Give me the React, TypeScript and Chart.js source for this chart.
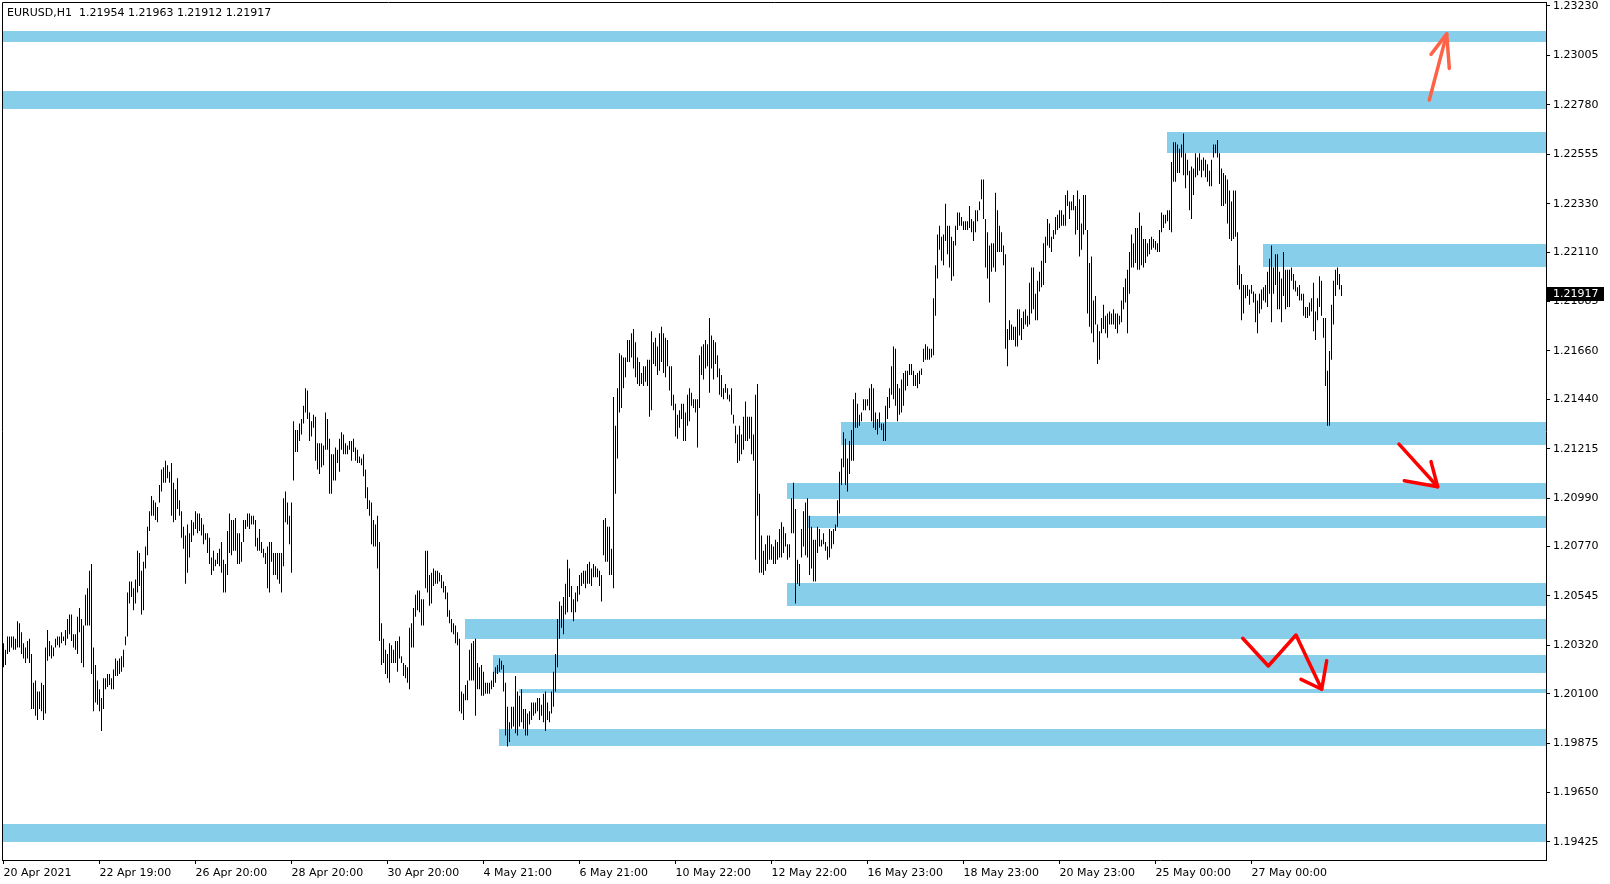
import React, { useEffect, useRef } from 'react';
import { Chart, registerables } from 'chart.js';

Chart.register(...registerables);

const symbolTitle = 'EURUSD,H1';
const lastBarOHLC = [1.21954, 1.21963, 1.21912, 1.21917];

const highs = [
  1.2033,1.2030,1.2036,1.2036,1.2036,1.2036,1.2035,1.2043,1.2042,1.2038,
  1.2033,1.2031,1.2034,1.2035,1.2028,1.2015,1.2016,1.2011,1.2011,1.2015,
  1.2014,1.2031,1.2039,1.2034,1.2032,1.2031,1.2035,1.2036,1.2036,1.2038,
  1.2036,1.2039,1.2044,1.2046,1.2046,1.2037,1.2037,1.2045,1.2049,1.2044,
  1.2041,1.2055,1.2058,1.2066,1.2069,1.2031,1.2023,1.2016,1.2012,1.2008,
  1.2017,1.2017,1.2019,1.2019,1.2017,1.2021,1.2026,1.2025,1.2026,1.2027,
  1.2030,1.2036,1.2056,1.2061,1.2061,1.2058,1.2062,1.2075,1.2074,1.2066,
  1.2070,1.2077,1.2086,1.2093,1.2100,1.2098,1.2097,1.2095,1.2105,1.2112,
  1.2113,1.2116,1.2114,1.2111,1.2115,1.2106,1.2103,1.2108,1.2098,1.2093,
  1.2086,1.2082,1.2087,1.2083,1.2089,1.2088,1.2093,1.2092,1.2092,1.2090,
  1.2087,1.2083,1.2083,1.2081,1.2072,1.2075,1.2071,1.2074,1.2076,1.2079,
  1.2071,1.2069,1.2084,1.2092,1.2089,1.2089,1.2090,1.2083,1.2083,1.2079,
  1.2089,1.2089,1.2092,1.2092,1.2091,1.2091,1.2089,1.2081,1.2085,1.2079,
  1.2076,1.2074,1.2077,1.2079,1.2079,1.2074,1.2074,1.2074,1.2074,1.2074,
  1.2099,1.2102,1.2097,1.2091,1.2097,1.2134,1.2130,1.2130,1.2133,1.2135,
  1.2141,1.2149,1.2148,1.2138,1.2134,1.2137,1.2136,1.2124,1.2124,1.2124,
  1.2123,1.2138,1.2135,1.2126,1.2119,1.2119,1.2122,1.2121,1.2126,1.2129,
  1.2128,1.2124,1.2123,1.2125,1.2125,1.2126,1.2122,1.2121,1.2118,1.2117,
  1.2119,1.2112,1.2104,1.2098,1.2097,1.2089,1.2087,1.2091,1.2079,1.2042,
  1.2035,1.2030,1.2028,1.2033,1.2032,1.2030,1.2034,1.2034,1.2036,1.2027,
  1.2024,1.2023,1.2022,1.2040,1.2042,1.2049,1.2055,1.2057,1.2057,1.2053,
  1.2053,1.2075,1.2075,1.2064,1.2065,1.2067,1.2066,1.2066,1.2065,1.2064,
  1.2061,1.2059,1.2056,1.2048,1.2044,1.2042,1.2041,1.2038,1.2035,1.2011,
  1.2010,1.2014,1.2016,1.2030,1.2033,1.2034,1.2035,1.2024,1.2022,1.2023,
  1.2020,1.2015,1.2015,1.2015,1.2016,1.2020,1.2022,1.2023,1.2026,1.2025,
  1.2023,1.2015,1.2004,1.1997,1.2004,1.2004,1.2018,1.2011,1.2009,1.2012,
  1.2003,1.2003,1.2001,1.2002,1.2006,1.2006,1.2006,1.2008,1.2008,1.2005,
  1.2010,1.2011,1.2006,1.2002,1.2011,1.2020,1.2028,1.2044,1.2052,1.2050,
  1.2054,1.2060,1.2071,1.2067,1.2059,1.2053,1.2056,1.2059,1.2064,1.2065,
  1.2066,1.2066,1.2069,1.2070,1.2067,1.2069,1.2068,1.2067,1.2066,1.2064,
  1.2089,1.2090,1.2086,1.2086,1.2076,1.2145,1.2132,1.2149,1.2165,1.2164,
  1.2163,1.2163,1.2171,1.2171,1.2174,1.2176,1.2170,1.2163,1.2161,1.2156,
  1.2159,1.2159,1.2162,1.2162,1.2175,1.2170,1.2172,1.2168,1.2174,1.2177,
  1.2174,1.2172,1.2171,1.2159,1.2159,1.2146,1.2142,1.2137,1.2139,1.2142,
  1.2142,1.2138,1.2146,1.2149,1.2147,1.2144,1.2144,1.2144,1.2164,1.2168,
  1.2169,1.2171,1.2169,1.2181,1.2173,1.2171,1.2170,1.2164,1.2158,1.2155,
  1.2149,1.2151,1.2149,1.2146,1.2149,1.2137,1.2132,1.2128,1.2132,1.2128,
  1.2136,1.2143,1.2136,1.2136,1.2136,1.2128,1.2146,1.2151,1.2101,1.2082,
  1.2075,1.2078,1.2082,1.2082,1.2078,1.2077,1.2080,1.2079,1.2085,1.2088,
  1.2086,1.2083,1.2078,1.2078,1.2099,1.2106,1.2094,1.2071,1.2069,1.2085,
  1.2093,1.2097,1.2099,1.2091,1.2086,1.2080,1.2080,1.2086,1.2085,1.2080,
  1.2083,1.2079,1.2077,1.2085,1.2084,1.2085,1.2087,1.2098,1.2111,1.2117,
  1.2129,1.2126,1.2117,1.2125,1.2130,1.2144,1.2147,1.2142,1.2137,1.2138,
  1.2144,1.2144,1.2144,1.2149,1.2151,1.2149,1.2138,1.2135,1.2138,1.2133,
  1.2133,1.2141,1.2145,1.2149,1.2159,1.2168,1.2167,1.2151,1.2149,1.2153,
  1.2156,1.2157,1.2157,1.2160,1.2160,1.2157,1.2155,1.2156,1.2157,1.2158,
  1.2167,1.2169,1.2168,1.2167,1.2167,1.2190,1.2205,1.2219,1.2223,1.2218,
  1.2219,1.2233,1.2223,1.2223,1.2218,1.2216,1.2223,1.2229,1.2229,1.2227,
  1.2225,1.2225,1.2225,1.2232,1.2226,1.2225,1.2230,1.2230,1.2234,1.2244,
  1.2244,1.2226,1.2220,1.2214,1.2215,1.2215,1.2238,1.2230,1.2223,1.2220,
  1.2214,1.2210,1.2176,1.2180,1.2178,1.2177,1.2177,1.2185,1.2185,1.2181,
  1.2184,1.2185,1.2182,1.2197,1.2204,1.2204,1.2192,1.2198,1.2202,1.2207,
  1.2215,1.2218,1.2226,1.2224,1.2218,1.2221,1.2227,1.2228,1.2230,1.2230,
  1.2228,1.2237,1.2239,1.2234,1.2234,1.2237,1.2232,1.2239,1.2235,1.2224,
  1.2237,1.2237,1.2221,1.2206,1.2209,1.2189,1.2191,1.2178,1.2175,1.2181,
  1.2187,1.2182,1.2183,1.2184,1.2183,1.2185,1.2183,1.2183,1.2182,1.2189,
  1.2195,1.2199,1.2203,1.2211,1.2219,1.2215,1.2222,1.2222,1.2229,1.2223,
  1.2217,1.2217,1.2215,1.2217,1.2218,1.2217,1.2216,1.2215,1.2221,1.2229,
  1.2228,1.2228,1.2230,1.2230,1.2252,1.2261,1.2261,1.2260,1.2258,1.2260,
  1.2265,1.2256,1.2253,1.2248,1.2250,1.2249,1.2256,1.2254,1.2256,1.2253,
  1.2254,1.2253,1.2251,1.2248,1.2253,1.2260,1.2260,1.2262,1.2256,1.2249,
  1.2247,1.2246,1.2244,1.2239,1.2234,1.2239,1.2239,1.2220,1.2205,1.2201,
  1.2196,1.2196,1.2196,1.2194,1.2196,1.2193,1.2192,1.2189,1.2192,1.2194,
  1.2195,1.2196,1.2202,1.2208,1.2214,1.2204,1.2210,1.2210,1.2202,1.2199,
  1.2211,1.2203,1.2203,1.2203,1.2204,1.2201,1.2198,1.2195,1.2196,1.2192,
  1.2192,1.2186,1.2186,1.2188,1.2190,1.2197,1.2184,1.2190,1.2200,1.2198,
  1.2181,1.2181,1.2157,1.2166,1.2187,1.2198,1.2203,1.2204,1.2201,1.2196
];

const lows = [
  1.2022,1.2023,1.2028,1.2029,1.2031,1.2030,1.2030,1.2031,1.2031,1.2028,
  1.2026,1.2024,1.2026,1.2024,1.2003,1.2003,1.2000,1.1998,1.2003,1.2002,
  1.1998,1.2001,1.2025,1.2027,1.2026,1.2027,1.2031,1.2032,1.2031,1.2033,
  1.2034,1.2032,1.2035,1.2037,1.2034,1.2031,1.2030,1.2028,1.2038,1.2024,
  1.2022,1.2041,1.2041,1.2041,1.2019,1.2002,1.2006,1.2005,1.2002,1.1993,
  1.2003,1.2012,1.2013,1.2014,1.2012,1.2012,1.2018,1.2018,1.2019,1.2020,
  1.2022,1.2032,1.2036,1.2051,1.2054,1.2048,1.2051,1.2056,1.2059,1.2046,
  1.2048,1.2067,1.2073,1.2084,1.2091,1.2091,1.2089,1.2088,1.2097,1.2102,
  1.2106,1.2106,1.2108,1.2106,1.2091,1.2088,1.2089,1.2094,1.2091,1.2081,
  1.2076,1.2060,1.2065,1.2072,1.2079,1.2082,1.2085,1.2083,1.2084,1.2082,
  1.2078,1.2080,1.2074,1.2069,1.2064,1.2066,1.2068,1.2069,1.2068,1.2065,
  1.2056,1.2056,1.2064,1.2074,1.2073,1.2075,1.2075,1.2069,1.2069,1.2070,
  1.2079,1.2085,1.2086,1.2085,1.2087,1.2087,1.2077,1.2075,1.2075,1.2074,
  1.2072,1.2069,1.2058,1.2056,1.2070,1.2064,1.2064,1.2062,1.2060,1.2056,
  1.2068,1.2088,1.2087,1.2078,1.2065,1.2107,1.2120,1.2120,1.2125,1.2128,
  1.2133,1.2138,1.2135,1.2125,1.2127,1.2131,1.2116,1.2112,1.2110,1.2113,
  1.2114,1.2121,1.2121,1.2101,1.2101,1.2107,1.2107,1.2115,1.2111,1.2121,
  1.2119,1.2119,1.2119,1.2121,1.2116,1.2120,1.2116,1.2115,1.2115,1.2114,
  1.2109,1.2099,1.2094,1.2091,1.2078,1.2077,1.2077,1.2067,1.2034,1.2023,
  1.2024,1.2019,1.2017,1.2015,1.2024,1.2024,1.2024,1.2020,1.2026,1.2024,
  1.2018,1.2017,1.2015,1.2012,1.2031,1.2031,1.2045,1.2048,1.2047,1.2041,
  1.2041,1.2058,1.2056,1.2050,1.2051,1.2059,1.2060,1.2060,1.2061,1.2058,
  1.2056,1.2053,1.2045,1.2042,1.2038,1.2037,1.2033,1.2032,1.2002,1.2001,
  1.1998,1.2007,1.2007,1.2016,1.2016,1.2016,1.2000,1.2012,1.2012,1.2009,
  1.2009,1.2010,1.2010,1.2010,1.2012,1.2013,1.2015,1.2019,1.2020,1.2021,
  1.2011,1.1991,1.1986,1.1988,1.1994,1.1995,1.1992,1.1991,1.1995,1.1997,
  1.1994,1.1991,1.1991,1.1996,1.1998,1.2000,1.2001,1.2002,1.1998,1.2000,
  1.1997,1.1993,1.1998,1.1997,1.2001,1.2004,1.2011,1.2022,1.2035,1.2040,
  1.2037,1.2046,1.2047,1.2054,1.2047,1.2043,1.2047,1.2052,1.2055,1.2059,
  1.2060,1.2058,1.2060,1.2060,1.2059,1.2063,1.2063,1.2063,1.2059,1.2052,
  1.2073,1.2070,1.2070,1.2064,1.2064,1.2058,1.2101,1.2117,1.2138,1.2140,
  1.2149,1.2154,1.2161,1.2161,1.2163,1.2158,1.2154,1.2151,1.2150,1.2151,
  1.2150,1.2152,1.2150,1.2136,1.2139,1.2160,1.2159,1.2155,1.2157,1.2161,
  1.2156,1.2154,1.2159,1.2148,1.2141,1.2139,1.2127,1.2126,1.2131,1.2135,
  1.2125,1.2125,1.2132,1.2134,1.2141,1.2140,1.2138,1.2122,1.2140,1.2155,
  1.2153,1.2158,1.2159,1.2147,1.2158,1.2153,1.2160,1.2154,1.2146,1.2145,
  1.2144,1.2147,1.2144,1.2143,1.2137,1.2133,1.2124,1.2115,1.2116,1.2119,
  1.2121,1.2125,1.2125,1.2126,1.2119,1.2116,1.2071,1.2091,1.2065,1.2065,
  1.2064,1.2066,1.2069,1.2071,1.2071,1.2069,1.2069,1.2071,1.2072,1.2072,
  1.2074,1.2077,1.2071,1.2072,1.2083,1.2083,1.2051,1.2060,1.2059,1.2072,
  1.2077,1.2073,1.2072,1.2064,1.2067,1.2061,1.2061,1.2074,1.2077,1.2077,
  1.2078,1.2075,1.2071,1.2072,1.2076,1.2078,1.2084,1.2086,1.2092,1.2105,
  1.2113,1.2105,1.2102,1.2110,1.2116,1.2116,1.2131,1.2131,1.2132,1.2134,
  1.2139,1.2139,1.2141,1.2139,1.2134,1.2131,1.2130,1.2128,1.2131,1.2130,
  1.2125,1.2125,1.2135,1.2140,1.2146,1.2144,1.2141,1.2134,1.2137,1.2138,
  1.2141,1.2148,1.2150,1.2155,1.2155,1.2150,1.2150,1.2149,1.2151,1.2155,
  1.2161,1.2162,1.2162,1.2162,1.2163,1.2164,1.2182,1.2199,1.2212,1.2207,
  1.2205,1.2216,1.2210,1.2204,1.2198,1.2200,1.2214,1.2221,1.2223,1.2223,
  1.2221,1.2221,1.2221,1.2222,1.2220,1.2216,1.2220,1.2225,1.2230,1.2235,
  1.2226,1.2204,1.2199,1.2188,1.2202,1.2204,1.2202,1.2211,1.2211,1.2211,
  1.2205,1.2167,1.2159,1.2171,1.2171,1.2171,1.2168,1.2168,1.2173,1.2171,
  1.2176,1.2178,1.2177,1.2178,1.2183,1.2185,1.2180,1.2180,1.2193,1.2195,
  1.2196,1.2206,1.2214,1.2213,1.2211,1.2217,1.2219,1.2221,1.2222,1.2223,
  1.2223,1.2223,1.2232,1.2226,1.2230,1.2230,1.2219,1.2221,1.2209,1.2212,
  1.2219,1.2221,1.2183,1.2177,1.2174,1.2170,1.2178,1.2160,1.2162,1.2174,
  1.2176,1.2174,1.2172,1.2178,1.2178,1.2178,1.2176,1.2174,1.2178,1.2179,
  1.2185,1.2188,1.2174,1.2192,1.2204,1.2204,1.2206,1.2203,1.2203,1.2205,
  1.2204,1.2206,1.2209,1.2210,1.2212,1.2213,1.2212,1.2211,1.2211,1.2220,
  1.2222,1.2224,1.2225,1.2221,1.2220,1.2243,1.2243,1.2247,1.2247,1.2254,
  1.2246,1.2240,1.2246,1.2230,1.2226,1.2237,1.2245,1.2246,1.2248,1.2245,
  1.2248,1.2245,1.2243,1.2241,1.2241,1.2254,1.2256,1.2254,1.2242,1.2232,
  1.2232,1.2233,1.2224,1.2217,1.2216,1.2217,1.2218,1.2196,1.2194,1.2180,
  1.2183,1.2190,1.2191,1.2187,1.2192,1.2188,1.2179,1.2174,1.2183,1.2185,
  1.2189,1.2188,1.2186,1.2192,1.2179,1.2192,1.2196,1.2185,1.2185,1.2179,
  1.2191,1.2185,1.2186,1.2186,1.2198,1.2194,1.2193,1.2191,1.2189,1.2189,
  1.2182,1.2181,1.2181,1.2182,1.2184,1.2175,1.2171,1.2180,1.2186,1.2182,
  1.2172,1.2150,1.2132,1.2132,1.2162,1.2178,1.2191,1.2196,1.2194,1.2191
];

const timeTickIndex = [0, 48, 96, 144, 192, 240, 288, 336, 384, 432, 480, 528, 576, 624];
const timeTickLabels = [
  '20 Apr 2021', '22 Apr 19:00', '26 Apr 20:00', '28 Apr 20:00', '30 Apr 20:00',
  '4 May 21:00', '6 May 21:00', '10 May 22:00', '12 May 22:00', '16 May 23:00',
  '18 May 23:00', '20 May 23:00', '25 May 00:00', '27 May 00:00'
];

const priceTicks = [
  1.23230, 1.23005, 1.22780, 1.22555, 1.22330, 1.22110, 1.21885, 1.21660, 1.21440,
  1.21215, 1.20990, 1.20770, 1.20545, 1.20320, 1.20100, 1.19875, 1.19650, 1.19425
];

// Supply / demand zones (price top, price bottom, first bar index; null = whole chart)
const zoneTop = [1.23116, 1.22845, 1.22656, 1.22147, 1.21336, 1.21059, 1.20908, 1.20604, 1.20440, 1.20276, 1.20121, 1.19939, 1.19507];
const zoneBottom = [1.23066, 1.22763, 1.22562, 1.22040, 1.21233, 1.20986, 1.20855, 1.20500, 1.20349, 1.20195, 1.20104, 1.19863, 1.19426];
const zoneStart: (number | null)[] = [null, null, 582, 630, 419, 392, 402, 392, 231, 245, 258, 248, null];

// Hand-drawn arrows (bar index, price)
const arrowUp = [[[712.9, 1.22802], [721.6, 1.23103]], [[713.75, 1.23010], [721.6, 1.23103], [722.9, 1.22946]]];
const arrowDown = [[[697.75, 1.21236], [717.1, 1.21042]], [[713.75, 1.21156], [717.1, 1.21042], [700.4, 1.21069]]];
const arrowZigzag = [
  [[619.6, 1.20352], [632.4, 1.20226], [646.25, 1.20367], [659.1, 1.20120]],
  [[661.6, 1.20250], [659.1, 1.20120], [648.75, 1.20165]]
];
const arrowColors = ['#FF6347', '#FF0000', '#FF0000'];

const X_MIN = -0.75;
const X_MAX = 771.25;
const Y_MAX = 1.232482;
const Y_MIN = 1.193429;
const FONT = '"DejaVu Sans", Verdana, sans-serif';

const zonesPlugin = {
  id: 'zones',
  beforeDatasetsDraw(chart: any) {
    const { ctx, chartArea, scales } = chart;
    const xs = scales.x;
    const ys = scales.y;
    ctx.save();
    ctx.fillStyle = '#87CEEB';
    for (let k = 0; k < zoneTop.length; k++) {
      const s = zoneStart[k];
      const x0 = s === null ? chartArea.left : Math.round(xs.getPixelForValue(s) - 0.5);
      const y0 = Math.round(ys.getPixelForValue(zoneTop[k]));
      const y1 = Math.round(ys.getPixelForValue(zoneBottom[k]));
      ctx.fillRect(x0, y0, chartArea.right - x0, Math.max(1, y1 - y0));
    }
    ctx.restore();
  }
};

const overlayPlugin = {
  id: 'overlay',
  afterDatasetsDraw(chart: any) {
    const { ctx, scales } = chart;
    const xs = scales.x;
    const ys = scales.y;
    const groups = [arrowUp, arrowDown, arrowZigzag];
    ctx.save();
    ctx.lineWidth = 3.5;
    ctx.lineCap = 'round';
    ctx.lineJoin = 'round';
    groups.forEach((g, gi) => {
      ctx.strokeStyle = arrowColors[gi];
      g.forEach((line) => {
        ctx.beginPath();
        line.forEach((pt, k) => {
          const px = xs.getPixelForValue(pt[0]);
          const py = ys.getPixelForValue(pt[1]);
          if (k === 0) ctx.moveTo(px, py); else ctx.lineTo(px, py);
        });
        ctx.stroke();
      });
    });
    ctx.restore();
  },
  afterDraw(chart: any) {
    const { ctx, chartArea, scales } = chart;
    const ys = scales.y;
    ctx.save();
    // frame left/top
    ctx.strokeStyle = '#000';
    ctx.lineWidth = 1;
    ctx.beginPath();
    ctx.moveTo(chartArea.left + 0.5, chartArea.bottom);
    ctx.lineTo(chartArea.left + 0.5, chartArea.top + 0.5);
    ctx.lineTo(chartArea.right, chartArea.top + 0.5);
    ctx.stroke();
    // title
    ctx.fillStyle = '#000';
    ctx.font = '11px ' + FONT;
    ctx.textBaseline = 'alphabetic';
    ctx.textAlign = 'left';
    ctx.fillText(symbolTitle + '  ' + lastBarOHLC.map((v) => v.toFixed(5)).join(' '), 7, 16);
    // current price label
    const yc = Math.round(ys.getPixelForValue(lastBarOHLC[3]));
    ctx.fillStyle = '#000';
    ctx.fillRect(chartArea.right + 1, yc - 7, 57, 14);
    ctx.fillStyle = '#fff';
    ctx.textBaseline = 'middle';
    ctx.fillText(lastBarOHLC[3].toFixed(5), chartArea.right + 7, yc + 0.5);
    ctx.restore();
  }
};

export default function App() {
  const canvasRef = useRef<HTMLCanvasElement | null>(null);

  useEffect(() => {
    const canvas = canvasRef.current;
    if (!canvas) return;
    const n = Math.min(highs.length, lows.length);
    const barData = [] as { x: number; y: number[] }[];
    for (let i = 0; i < n; i++) barData.push({ x: i, y: [lows[i], highs[i]] });

    const chart = new Chart(canvas, {
      type: 'bar',
      data: {
        datasets: [
          {
            data: barData as any,
            backgroundColor: '#000000',
            borderWidth: 0,
            barThickness: 1,
            inflateAmount: 0,
            grouped: false
          } as any
        ]
      },
      options: {
        animation: false,
        responsive: false,
        devicePixelRatio: 1,
        events: [],
        layout: { padding: { left: 2, top: 2, right: 0, bottom: 0 } },
        plugins: {
          legend: { display: false },
          tooltip: { enabled: false },
          title: { display: false }
        },
        scales: {
          x: {
            type: 'linear',
            position: 'bottom',
            min: X_MIN,
            max: X_MAX,
            offset: false,
            grid: { display: true, drawOnChartArea: false, drawTicks: true, tickLength: 4, color: '#000', offset: false },
            border: { display: true, color: '#000', width: 1 },
            ticks: {
              autoSkip: false,
              maxRotation: 0,
              minRotation: 0,
              align: 'start',
              padding: 3,
              color: '#000',
              font: { family: FONT, size: 11 },
              callback: (value: any) => {
                const k = timeTickIndex.indexOf(Number(value));
                return k >= 0 ? timeTickLabels[k] : '';
              }
            },
            afterBuildTicks: (s: any) => {
              s.ticks = timeTickIndex.map((v) => ({ value: v }));
            },
            afterFit: (s: any) => {
              s.height = 24;
              s.paddingLeft = 0;
              s.paddingRight = 0;
            }
          } as any,
          y: {
            type: 'linear',
            position: 'right',
            min: Y_MIN,
            max: Y_MAX,
            grid: { display: true, drawOnChartArea: false, drawTicks: true, tickLength: 4, color: '#000' },
            border: { display: true, color: '#000', width: 1 },
            ticks: {
              padding: 3,
              color: '#000',
              font: { family: FONT, size: 11 },
              callback: (value: any) => Number(value).toFixed(5)
            },
            afterBuildTicks: (s: any) => {
              s.ticks = priceTicks.map((v) => ({ value: v }));
            },
            afterFit: (s: any) => {
              s.width = 64;
              s.paddingTop = 0;
              s.paddingBottom = 0;
            }
          } as any
        }
      } as any,
      plugins: [zonesPlugin, overlayPlugin]
    });

    return () => {
      chart.destroy();
    };
  }, []);

  return (
    <div style={{ position: 'absolute', left: 0, top: 0, width: 1610, height: 884, background: '#ffffff' }}>
      <canvas ref={canvasRef} width={1610} height={884} style={{ display: 'block', width: 1610, height: 884 }} />
    </div>
  );
}
